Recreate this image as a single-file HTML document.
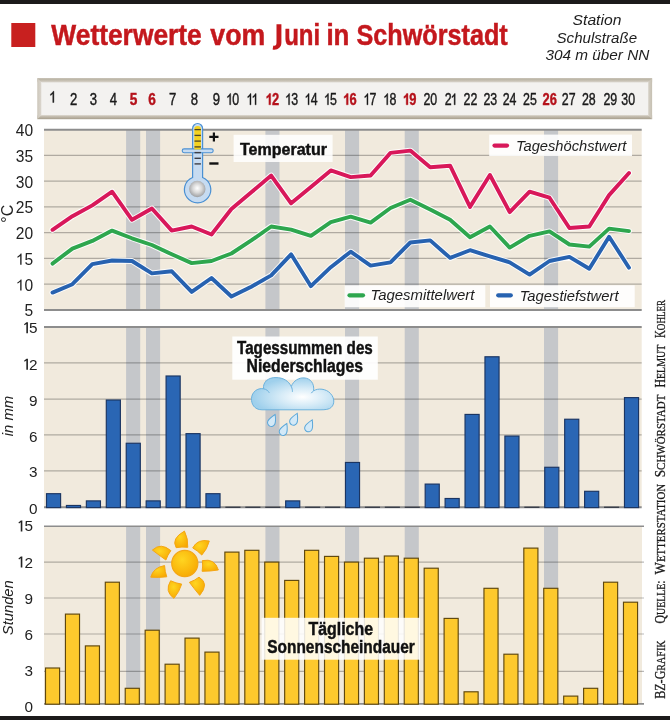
<!DOCTYPE html>
<html lang="de"><head><meta charset="utf-8"><title>Wetterwerte vom Juni in Schwörstadt</title>
<style>html,body{margin:0;padding:0;background:#fff}body{width:670px;height:720px;overflow:hidden;font-family:"Liberation Sans",sans-serif}svg{will-change:transform}</style></head>
<body>
<svg width="670" height="720" viewBox="0 0 670 720" style="display:block;font-family:'Liberation Sans',sans-serif">
<defs>
<linearGradient id="hb" x1="0" y1="0" x2="0" y2="1"><stop offset="0" stop-color="#b5ae9e"/><stop offset="0.075" stop-color="#cbc5b9"/><stop offset="0.115" stop-color="#f3f2f0"/><stop offset="0.885" stop-color="#f3f2f0"/><stop offset="0.92" stop-color="#cac3b6"/><stop offset="1" stop-color="#a69e8c"/></linearGradient>
<linearGradient id="hl" x1="0" y1="0" x2="1" y2="0"><stop offset="0" stop-color="#cdc7bb"/><stop offset="0.7" stop-color="#d8d3ca"/><stop offset="1" stop-color="#f3f2f0"/></linearGradient>
<linearGradient id="hr" x1="1" y1="0" x2="0" y2="0"><stop offset="0" stop-color="#c6c0b2"/><stop offset="0.7" stop-color="#d2cdc2"/><stop offset="1" stop-color="#f3f2f0"/></linearGradient>
<radialGradient id="ball" cx="0.5" cy="0.45" r="0.55"><stop offset="0" stop-color="#ffffff"/><stop offset="0.5" stop-color="#d8d8d8"/><stop offset="1" stop-color="#9d9fa2"/></radialGradient>
<radialGradient id="cloud" cx="0.62" cy="0.6" r="0.6"><stop offset="0" stop-color="#ffffff"/><stop offset="0.45" stop-color="#d6ebf7"/><stop offset="1" stop-color="#9fd0ec"/></radialGradient>
<radialGradient id="sun" cx="0.4" cy="0.35" r="0.75"><stop offset="0" stop-color="#ffd521"/><stop offset="1" stop-color="#f7a600"/></radialGradient>
</defs>
<rect width="670" height="720" fill="#fff"/>
<rect width="670" height="4" fill="#1c1a1b"/>
<rect y="716" width="670" height="4" fill="#1c1a1b"/>
<rect x="11.3" y="23" width="24" height="24" fill="#c8201f"/>
<path d="M276.5,24.3 H281.4 V42.6 C281.4,47.4 278.3,49.7 274.4,49.7 C273.8,49.7 273.2,49.6 272.6,49.4 L273.3,45.6 C273.6,45.7 274,45.8 274.3,45.8 C275.8,45.8 276.5,44.9 276.5,42.3 Z" fill="#c4181d"/>
<text x="51.3" y="44.9" font-size="29.8" font-weight="bold" fill="#c4181d" stroke="#c4181d" stroke-width="0.5" textLength="150.5" lengthAdjust="spacingAndGlyphs">Wetterwerte</text>
<text x="210.3" y="44.9" font-size="29.8" font-weight="bold" fill="#c4181d" stroke="#c4181d" stroke-width="0.5" textLength="54.9" lengthAdjust="spacingAndGlyphs">vom</text>
<text x="284.2" y="44.9" font-size="29.8" font-weight="bold" fill="#c4181d" stroke="#c4181d" stroke-width="0.5" textLength="36.0" lengthAdjust="spacingAndGlyphs">uni</text>
<text x="326.4" y="44.9" font-size="29.8" font-weight="bold" fill="#c4181d" stroke="#c4181d" stroke-width="0.5" textLength="23.0" lengthAdjust="spacingAndGlyphs">in</text>
<text x="356.5" y="44.9" font-size="29.8" font-weight="bold" fill="#c4181d" stroke="#c4181d" stroke-width="0.5" textLength="151.2" lengthAdjust="spacingAndGlyphs">Schwörstadt</text>
<text x="572.6" y="25.3" font-size="14.9" font-style="italic" fill="#1e1e1e" textLength="48.8" lengthAdjust="spacingAndGlyphs">Station</text>
<text x="556.5" y="43.1" font-size="14.9" font-style="italic" fill="#1e1e1e" textLength="80.6" lengthAdjust="spacingAndGlyphs">Schulstraße</text>
<text x="545.4" y="59.7" font-size="14.9" font-style="italic" fill="#1e1e1e" textLength="104.0" lengthAdjust="spacingAndGlyphs">304 m über NN</text>
<rect x="37.3" y="78.2" width="614.8" height="41" fill="url(#hb)"/>
<polygon points="37.3,78.2 41.9,82.8 41.9,114.6 37.3,119.2" fill="url(#hl)"/>
<polygon points="652.1,78.2 647.5,82.8 647.5,114.6 652.1,119.2" fill="url(#hr)"/>
<path transform="translate(49.02,102.5) scale(0.00641,-0.00762)" d="M763 0 H583 V1147 Q518 1085 412.5 1023 Q307 961 223 930 V1104 Q374 1175 487 1276 Q600 1377 647 1472 H763 Z" fill="#1a1a1a" stroke="#1a1a1a" stroke-width="53"/>
<text x="69.95" y="104.8" font-size="15.6" font-weight="normal" fill="#1a1a1a" textLength="7.30" lengthAdjust="spacingAndGlyphs" stroke="#1a1a1a" stroke-width="0.4">2</text>
<text x="89.75" y="104.8" font-size="15.6" font-weight="normal" fill="#1a1a1a" textLength="7.30" lengthAdjust="spacingAndGlyphs" stroke="#1a1a1a" stroke-width="0.4">3</text>
<text x="109.75" y="104.8" font-size="15.6" font-weight="normal" fill="#1a1a1a" textLength="7.30" lengthAdjust="spacingAndGlyphs" stroke="#1a1a1a" stroke-width="0.4">4</text>
<text x="129.70" y="104.8" font-size="15.6" font-weight="bold" fill="#b5121b" textLength="7.59" lengthAdjust="spacingAndGlyphs" stroke="#b5121b" stroke-width="0.4">5</text>
<text x="148.20" y="104.8" font-size="15.6" font-weight="bold" fill="#b5121b" textLength="7.59" lengthAdjust="spacingAndGlyphs" stroke="#b5121b" stroke-width="0.4">6</text>
<text x="169.05" y="104.8" font-size="15.6" font-weight="normal" fill="#1a1a1a" textLength="7.30" lengthAdjust="spacingAndGlyphs" stroke="#1a1a1a" stroke-width="0.4">7</text>
<text x="190.65" y="104.8" font-size="15.6" font-weight="normal" fill="#1a1a1a" textLength="7.30" lengthAdjust="spacingAndGlyphs" stroke="#1a1a1a" stroke-width="0.4">8</text>
<text x="212.65" y="104.8" font-size="15.6" font-weight="normal" fill="#1a1a1a" textLength="7.30" lengthAdjust="spacingAndGlyphs" stroke="#1a1a1a" stroke-width="0.4">9</text>
<path transform="translate(226.08,104.8) scale(0.00606,-0.00762)" d="M763 0 H583 V1147 Q518 1085 412.5 1023 Q307 961 223 930 V1104 Q374 1175 487 1276 Q600 1377 647 1472 H763 Z" fill="#1a1a1a" stroke="#1a1a1a" stroke-width="53"/>
<text x="232.30" y="104.8" font-size="15.6" font-weight="normal" fill="#1a1a1a" textLength="6.90" lengthAdjust="spacingAndGlyphs" stroke="#1a1a1a" stroke-width="0.4">0</text>
<path transform="translate(246.38,104.8) scale(0.00606,-0.00762)" d="M763 0 H583 V1147 Q518 1085 412.5 1023 Q307 961 223 930 V1104 Q374 1175 487 1276 Q600 1377 647 1472 H763 Z" fill="#1a1a1a" stroke="#1a1a1a" stroke-width="53"/>
<path transform="translate(251.49,104.8) scale(0.00606,-0.00762)" d="M763 0 H583 V1147 Q518 1085 412.5 1023 Q307 961 223 930 V1104 Q374 1175 487 1276 Q600 1377 647 1472 H763 Z" fill="#1a1a1a" stroke="#1a1a1a" stroke-width="53"/>
<path transform="translate(265.60,104.8) scale(0.00630,-0.00762)" d="M805 0 H524 V1059 Q370 915 161 846 V1101 Q271 1137 400 1237.5 Q529 1338 577 1472 H805 Z" fill="#b5121b" stroke="#b5121b" stroke-width="53"/>
<text x="272.07" y="104.8" font-size="15.6" font-weight="bold" fill="#b5121b" textLength="7.18" lengthAdjust="spacingAndGlyphs" stroke="#b5121b" stroke-width="0.4">2</text>
<path transform="translate(284.98,104.8) scale(0.00606,-0.00762)" d="M763 0 H583 V1147 Q518 1085 412.5 1023 Q307 961 223 930 V1104 Q374 1175 487 1276 Q600 1377 647 1472 H763 Z" fill="#1a1a1a" stroke="#1a1a1a" stroke-width="53"/>
<text x="291.20" y="104.8" font-size="15.6" font-weight="normal" fill="#1a1a1a" textLength="6.90" lengthAdjust="spacingAndGlyphs" stroke="#1a1a1a" stroke-width="0.4">3</text>
<path transform="translate(304.48,104.8) scale(0.00606,-0.00762)" d="M763 0 H583 V1147 Q518 1085 412.5 1023 Q307 961 223 930 V1104 Q374 1175 487 1276 Q600 1377 647 1472 H763 Z" fill="#1a1a1a" stroke="#1a1a1a" stroke-width="53"/>
<text x="310.70" y="104.8" font-size="15.6" font-weight="normal" fill="#1a1a1a" textLength="6.90" lengthAdjust="spacingAndGlyphs" stroke="#1a1a1a" stroke-width="0.4">4</text>
<path transform="translate(323.88,104.8) scale(0.00606,-0.00762)" d="M763 0 H583 V1147 Q518 1085 412.5 1023 Q307 961 223 930 V1104 Q374 1175 487 1276 Q600 1377 647 1472 H763 Z" fill="#1a1a1a" stroke="#1a1a1a" stroke-width="53"/>
<text x="330.10" y="104.8" font-size="15.6" font-weight="normal" fill="#1a1a1a" textLength="6.90" lengthAdjust="spacingAndGlyphs" stroke="#1a1a1a" stroke-width="0.4">5</text>
<path transform="translate(343.10,104.8) scale(0.00630,-0.00762)" d="M805 0 H524 V1059 Q370 915 161 846 V1101 Q271 1137 400 1237.5 Q529 1338 577 1472 H805 Z" fill="#b5121b" stroke="#b5121b" stroke-width="53"/>
<text x="349.57" y="104.8" font-size="15.6" font-weight="bold" fill="#b5121b" textLength="7.18" lengthAdjust="spacingAndGlyphs" stroke="#b5121b" stroke-width="0.4">6</text>
<path transform="translate(363.38,104.8) scale(0.00606,-0.00762)" d="M763 0 H583 V1147 Q518 1085 412.5 1023 Q307 961 223 930 V1104 Q374 1175 487 1276 Q600 1377 647 1472 H763 Z" fill="#1a1a1a" stroke="#1a1a1a" stroke-width="53"/>
<text x="369.60" y="104.8" font-size="15.6" font-weight="normal" fill="#1a1a1a" textLength="6.90" lengthAdjust="spacingAndGlyphs" stroke="#1a1a1a" stroke-width="0.4">7</text>
<path transform="translate(383.18,104.8) scale(0.00606,-0.00762)" d="M763 0 H583 V1147 Q518 1085 412.5 1023 Q307 961 223 930 V1104 Q374 1175 487 1276 Q600 1377 647 1472 H763 Z" fill="#1a1a1a" stroke="#1a1a1a" stroke-width="53"/>
<text x="389.40" y="104.8" font-size="15.6" font-weight="normal" fill="#1a1a1a" textLength="6.90" lengthAdjust="spacingAndGlyphs" stroke="#1a1a1a" stroke-width="0.4">8</text>
<path transform="translate(402.90,104.8) scale(0.00630,-0.00762)" d="M805 0 H524 V1059 Q370 915 161 846 V1101 Q271 1137 400 1237.5 Q529 1338 577 1472 H805 Z" fill="#b5121b" stroke="#b5121b" stroke-width="53"/>
<text x="409.37" y="104.8" font-size="15.6" font-weight="bold" fill="#b5121b" textLength="7.18" lengthAdjust="spacingAndGlyphs" stroke="#b5121b" stroke-width="0.4">9</text>
<text x="423.40" y="104.8" font-size="15.6" font-weight="normal" fill="#1a1a1a" textLength="6.90" lengthAdjust="spacingAndGlyphs" stroke="#1a1a1a" stroke-width="0.4">2</text>
<text x="430.30" y="104.8" font-size="15.6" font-weight="normal" fill="#1a1a1a" textLength="6.90" lengthAdjust="spacingAndGlyphs" stroke="#1a1a1a" stroke-width="0.4">0</text>
<text x="444.80" y="104.8" font-size="15.6" font-weight="normal" fill="#1a1a1a" textLength="6.90" lengthAdjust="spacingAndGlyphs" stroke="#1a1a1a" stroke-width="0.4">2</text>
<path transform="translate(450.58,104.8) scale(0.00606,-0.00762)" d="M763 0 H583 V1147 Q518 1085 412.5 1023 Q307 961 223 930 V1104 Q374 1175 487 1276 Q600 1377 647 1472 H763 Z" fill="#1a1a1a" stroke="#1a1a1a" stroke-width="53"/>
<text x="463.60" y="104.8" font-size="15.6" font-weight="normal" fill="#1a1a1a" textLength="6.90" lengthAdjust="spacingAndGlyphs" stroke="#1a1a1a" stroke-width="0.4">2</text>
<text x="470.50" y="104.8" font-size="15.6" font-weight="normal" fill="#1a1a1a" textLength="6.90" lengthAdjust="spacingAndGlyphs" stroke="#1a1a1a" stroke-width="0.4">2</text>
<text x="483.40" y="104.8" font-size="15.6" font-weight="normal" fill="#1a1a1a" textLength="6.90" lengthAdjust="spacingAndGlyphs" stroke="#1a1a1a" stroke-width="0.4">2</text>
<text x="490.30" y="104.8" font-size="15.6" font-weight="normal" fill="#1a1a1a" textLength="6.90" lengthAdjust="spacingAndGlyphs" stroke="#1a1a1a" stroke-width="0.4">3</text>
<text x="502.70" y="104.8" font-size="15.6" font-weight="normal" fill="#1a1a1a" textLength="6.90" lengthAdjust="spacingAndGlyphs" stroke="#1a1a1a" stroke-width="0.4">2</text>
<text x="509.60" y="104.8" font-size="15.6" font-weight="normal" fill="#1a1a1a" textLength="6.90" lengthAdjust="spacingAndGlyphs" stroke="#1a1a1a" stroke-width="0.4">4</text>
<text x="523.10" y="104.8" font-size="15.6" font-weight="normal" fill="#1a1a1a" textLength="6.90" lengthAdjust="spacingAndGlyphs" stroke="#1a1a1a" stroke-width="0.4">2</text>
<text x="530.00" y="104.8" font-size="15.6" font-weight="normal" fill="#1a1a1a" textLength="6.90" lengthAdjust="spacingAndGlyphs" stroke="#1a1a1a" stroke-width="0.4">5</text>
<text x="542.52" y="104.8" font-size="15.6" font-weight="bold" fill="#b5121b" textLength="7.18" lengthAdjust="spacingAndGlyphs" stroke="#b5121b" stroke-width="0.4">2</text>
<text x="549.70" y="104.8" font-size="15.6" font-weight="bold" fill="#b5121b" textLength="7.18" lengthAdjust="spacingAndGlyphs" stroke="#b5121b" stroke-width="0.4">6</text>
<text x="561.80" y="104.8" font-size="15.6" font-weight="normal" fill="#1a1a1a" textLength="6.90" lengthAdjust="spacingAndGlyphs" stroke="#1a1a1a" stroke-width="0.4">2</text>
<text x="568.70" y="104.8" font-size="15.6" font-weight="normal" fill="#1a1a1a" textLength="6.90" lengthAdjust="spacingAndGlyphs" stroke="#1a1a1a" stroke-width="0.4">7</text>
<text x="581.90" y="104.8" font-size="15.6" font-weight="normal" fill="#1a1a1a" textLength="6.90" lengthAdjust="spacingAndGlyphs" stroke="#1a1a1a" stroke-width="0.4">2</text>
<text x="588.80" y="104.8" font-size="15.6" font-weight="normal" fill="#1a1a1a" textLength="6.90" lengthAdjust="spacingAndGlyphs" stroke="#1a1a1a" stroke-width="0.4">8</text>
<text x="603.40" y="104.8" font-size="15.6" font-weight="normal" fill="#1a1a1a" textLength="6.90" lengthAdjust="spacingAndGlyphs" stroke="#1a1a1a" stroke-width="0.4">2</text>
<text x="610.30" y="104.8" font-size="15.6" font-weight="normal" fill="#1a1a1a" textLength="6.90" lengthAdjust="spacingAndGlyphs" stroke="#1a1a1a" stroke-width="0.4">9</text>
<text x="621.30" y="104.8" font-size="15.6" font-weight="normal" fill="#1a1a1a" textLength="6.90" lengthAdjust="spacingAndGlyphs" stroke="#1a1a1a" stroke-width="0.4">3</text>
<text x="628.20" y="104.8" font-size="15.6" font-weight="normal" fill="#1a1a1a" textLength="6.90" lengthAdjust="spacingAndGlyphs" stroke="#1a1a1a" stroke-width="0.4">0</text>
<rect x="44.0" y="129.7" width="597.7" height="180.2" fill="#f1eadd"/>
<rect x="126.10" y="129.7" width="14.1" height="180.2" fill="#c5c7ca"/>
<rect x="146.00" y="129.7" width="14.1" height="180.2" fill="#c5c7ca"/>
<rect x="265.40" y="129.7" width="14.1" height="180.2" fill="#c5c7ca"/>
<rect x="345.00" y="129.7" width="14.1" height="180.2" fill="#c5c7ca"/>
<rect x="404.70" y="129.7" width="14.1" height="180.2" fill="#c5c7ca"/>
<rect x="544.00" y="129.7" width="14.1" height="180.2" fill="#c5c7ca"/>
<line x1="44.0" x2="641.7" y1="155.4" y2="155.4" stroke="#000" stroke-opacity="0.27" stroke-width="1.2"/>
<line x1="44.0" x2="641.7" y1="181.2" y2="181.2" stroke="#000" stroke-opacity="0.27" stroke-width="1.2"/>
<line x1="44.0" x2="641.7" y1="206.9" y2="206.9" stroke="#000" stroke-opacity="0.27" stroke-width="1.2"/>
<line x1="44.0" x2="641.7" y1="232.7" y2="232.7" stroke="#000" stroke-opacity="0.27" stroke-width="1.2"/>
<line x1="44.0" x2="641.7" y1="258.4" y2="258.4" stroke="#000" stroke-opacity="0.27" stroke-width="1.2"/>
<line x1="44.0" x2="641.7" y1="284.2" y2="284.2" stroke="#000" stroke-opacity="0.27" stroke-width="1.2"/>
<line x1="44.0" x2="641.7" y1="129.7" y2="129.7" stroke="#8d8d8d" stroke-width="2"/>
<line x1="44.0" x2="641.7" y1="309.9" y2="309.9" stroke="#8d8d8d" stroke-width="2"/>
<text x="15.75" y="136.1" font-size="15.6" font-weight="normal" fill="#222" textLength="8.68" lengthAdjust="spacingAndGlyphs">4</text>
<text x="24.42" y="136.1" font-size="15.6" font-weight="normal" fill="#222" textLength="8.68" lengthAdjust="spacingAndGlyphs">0</text>
<text x="15.75" y="161.8" font-size="15.6" font-weight="normal" fill="#222" textLength="8.68" lengthAdjust="spacingAndGlyphs">3</text>
<text x="24.42" y="161.8" font-size="15.6" font-weight="normal" fill="#222" textLength="8.68" lengthAdjust="spacingAndGlyphs">5</text>
<text x="15.75" y="187.6" font-size="15.6" font-weight="normal" fill="#222" textLength="8.68" lengthAdjust="spacingAndGlyphs">3</text>
<text x="24.42" y="187.6" font-size="15.6" font-weight="normal" fill="#222" textLength="8.68" lengthAdjust="spacingAndGlyphs">0</text>
<text x="15.75" y="213.3" font-size="15.6" font-weight="normal" fill="#222" textLength="8.68" lengthAdjust="spacingAndGlyphs">2</text>
<text x="24.42" y="213.3" font-size="15.6" font-weight="normal" fill="#222" textLength="8.68" lengthAdjust="spacingAndGlyphs">5</text>
<text x="15.75" y="239.1" font-size="15.6" font-weight="normal" fill="#222" textLength="8.68" lengthAdjust="spacingAndGlyphs">2</text>
<text x="24.42" y="239.1" font-size="15.6" font-weight="normal" fill="#222" textLength="8.68" lengthAdjust="spacingAndGlyphs">0</text>
<path transform="translate(15.75,264.8) scale(0.00762,-0.00762)" d="M763 0 H583 V1147 Q518 1085 412.5 1023 Q307 961 223 930 V1104 Q374 1175 487 1276 Q600 1377 647 1472 H763 Z" fill="#222"/>
<text x="24.42" y="264.8" font-size="15.6" font-weight="normal" fill="#222" textLength="8.68" lengthAdjust="spacingAndGlyphs">5</text>
<path transform="translate(15.75,290.6) scale(0.00762,-0.00762)" d="M763 0 H583 V1147 Q518 1085 412.5 1023 Q307 961 223 930 V1104 Q374 1175 487 1276 Q600 1377 647 1472 H763 Z" fill="#222"/>
<text x="24.42" y="290.6" font-size="15.6" font-weight="normal" fill="#222" textLength="8.68" lengthAdjust="spacingAndGlyphs">0</text>
<text x="24.42" y="316.3" font-size="15.6" font-weight="normal" fill="#222" textLength="8.68" lengthAdjust="spacingAndGlyphs">5</text>
<text transform="translate(13,222.7) rotate(-90)" font-size="16" fill="#222">°C</text>
<rect x="233.6" y="134.8" width="99" height="27.2" fill="#fff" fill-opacity="0.85"/>
<text x="240" y="154.6" font-size="16.3" font-weight="bold" fill="#111" stroke="#111" stroke-width="0.45" textLength="87" lengthAdjust="spacingAndGlyphs">Temperatur</text>
<rect x="489.2" y="134.6" width="142.8" height="21.4" fill="#fff" fill-opacity="0.9"/>
<line x1="494.5" x2="507" y1="145.6" y2="145.6" stroke="#d8185a" stroke-width="4.2" stroke-linecap="round"/>
<text x="515.9" y="150.6" font-size="14.6" font-style="italic" fill="#1e1e1e" textLength="110.5" lengthAdjust="spacingAndGlyphs">Tageshöchstwert</text>
<rect x="344.7" y="285.3" width="140.6" height="21.9" fill="#fff" fill-opacity="0.9"/>
<line x1="349.5" x2="363" y1="295.3" y2="295.3" stroke="#2ea64e" stroke-width="4.2" stroke-linecap="round"/>
<text x="370.4" y="300.4" font-size="14.6" font-style="italic" fill="#1e1e1e" textLength="104.1" lengthAdjust="spacingAndGlyphs">Tagesmittelwert</text>
<rect x="490" y="285.3" width="144.7" height="21.9" fill="#fff" fill-opacity="0.9"/>
<line x1="498.2" x2="510.8" y1="295.3" y2="295.3" stroke="#2762b0" stroke-width="4.2" stroke-linecap="round"/>
<text x="519.7" y="301" font-size="14.6" font-style="italic" fill="#1e1e1e" textLength="98.8" lengthAdjust="spacingAndGlyphs">Tagestiefstwert</text>
<polyline points="52.5,292.6 72.4,284.2 92.3,264.1 112.1,260.5 132.0,261.0 151.9,273.4 171.8,271.3 191.7,291.9 211.5,278.0 231.4,296.5 251.3,286.7 271.2,275.4 291.1,254.3 310.9,286.2 330.8,267.2 350.7,251.7 370.6,265.6 390.5,262.3 410.3,242.5 430.2,240.4 450.1,257.9 470.0,250.2 489.9,256.4 509.7,262.3 529.6,274.6 549.5,261.0 569.4,256.9 589.3,268.7 609.1,236.8 629.0,267.7" fill="none" stroke="#fff" stroke-opacity="0.9" stroke-width="5.9" stroke-linejoin="round" stroke-linecap="round"/>
<polyline points="52.5,292.6 72.4,284.2 92.3,264.1 112.1,260.5 132.0,261.0 151.9,273.4 171.8,271.3 191.7,291.9 211.5,278.0 231.4,296.5 251.3,286.7 271.2,275.4 291.1,254.3 310.9,286.2 330.8,267.2 350.7,251.7 370.6,265.6 390.5,262.3 410.3,242.5 430.2,240.4 450.1,257.9 470.0,250.2 489.9,256.4 509.7,262.3 529.6,274.6 549.5,261.0 569.4,256.9 589.3,268.7 609.1,236.8 629.0,267.7" fill="none" stroke="#2762b0" stroke-width="3.9" stroke-linejoin="round" stroke-linecap="round"/>
<polyline points="52.5,263.6 72.4,248.6 92.3,240.9 112.1,230.6 132.0,238.3 151.9,245.0 171.8,254.3 191.7,263.1 211.5,261.0 231.4,253.5 251.3,240.4 271.2,226.5 291.1,229.6 310.9,235.8 330.8,222.1 350.7,216.7 370.6,222.6 390.5,208.0 410.3,199.7 430.2,209.5 450.1,219.8 470.0,237.3 489.9,226.5 509.7,247.6 529.6,235.8 549.5,231.4 569.4,244.5 589.3,246.6 609.1,228.6 629.0,231.1" fill="none" stroke="#fff" stroke-opacity="0.9" stroke-width="5.9" stroke-linejoin="round" stroke-linecap="round"/>
<polyline points="52.5,263.6 72.4,248.6 92.3,240.9 112.1,230.6 132.0,238.3 151.9,245.0 171.8,254.3 191.7,263.1 211.5,261.0 231.4,253.5 251.3,240.4 271.2,226.5 291.1,229.6 310.9,235.8 330.8,222.1 350.7,216.7 370.6,222.6 390.5,208.0 410.3,199.7 430.2,209.5 450.1,219.8 470.0,237.3 489.9,226.5 509.7,247.6 529.6,235.8 549.5,231.4 569.4,244.5 589.3,246.6 609.1,228.6 629.0,231.1" fill="none" stroke="#2ea64e" stroke-width="3.9" stroke-linejoin="round" stroke-linecap="round"/>
<polyline points="52.5,229.8 72.4,216.2 92.3,205.4 112.1,191.7 132.0,219.8 151.9,208.5 171.8,230.6 191.7,226.5 211.5,234.5 231.4,209.0 251.3,192.3 271.2,175.6 291.1,203.3 310.9,186.9 330.8,170.4 350.7,177.1 370.6,175.5 390.5,152.9 410.3,150.6 430.2,167.3 450.1,165.7 470.0,206.9 489.9,175.0 509.7,212.1 529.6,191.7 549.5,197.7 569.4,228.0 589.3,226.5 609.1,195.1 629.0,173.0" fill="none" stroke="#fff" stroke-opacity="0.9" stroke-width="5.9" stroke-linejoin="round" stroke-linecap="round"/>
<polyline points="52.5,229.8 72.4,216.2 92.3,205.4 112.1,191.7 132.0,219.8 151.9,208.5 171.8,230.6 191.7,226.5 211.5,234.5 231.4,209.0 251.3,192.3 271.2,175.6 291.1,203.3 310.9,186.9 330.8,170.4 350.7,177.1 370.6,175.5 390.5,152.9 410.3,150.6 430.2,167.3 450.1,165.7 470.0,206.9 489.9,175.0 509.7,212.1 529.6,191.7 549.5,197.7 569.4,228.0 589.3,226.5 609.1,195.1 629.0,173.0" fill="none" stroke="#d8185a" stroke-width="3.9" stroke-linejoin="round" stroke-linecap="round"/>
<g id="thermo">
<path d="M192.6,128.5 a5,5 0 0 1 10,0 V177.5 a13.2,13.2 0 1 1 -10,0 Z" fill="#c6dbf1" stroke="#4a90d3" stroke-width="1.2"/>
<rect x="182.2" y="148.9" width="31" height="3.8" rx="1.9" fill="#c6dbf1" stroke="#4a90d3" stroke-width="1.1"/>
<rect x="193.3" y="150" width="8.6" height="1.8" fill="#c6dbf1"/>
<path d="M194.3,129.4 a3.3,3.3 0 0 1 6.6,0 V149.6 H194.3 Z" fill="#f4d21f"/>
<g stroke="#4f4520" stroke-width="1.3"><line x1="194.5" x2="200.9" y1="129.6" y2="129.6"/><line x1="194.5" x2="200.9" y1="135.4" y2="135.4"/><line x1="194.5" x2="200.9" y1="141.1" y2="141.1"/><line x1="194.5" x2="200.9" y1="146.9" y2="146.9"/></g>
<g stroke="#3c3e46" stroke-width="1.4"><line x1="194.5" x2="200.9" y1="152.6" y2="152.6"/><line x1="194.5" x2="200.9" y1="158.3" y2="158.3"/><line x1="194.5" x2="200.9" y1="163.9" y2="163.9"/></g>
<circle cx="197.3" cy="189" r="8.2" fill="url(#ball)"/>
<path d="M209.3,136.9 h9.2 M213.9,132.4 v9" stroke="#111" stroke-width="2.2" fill="none"/>
<path d="M209.3,163.5 h9.2" stroke="#111" stroke-width="2.4" fill="none"/>
</g>
<rect x="44.0" y="327" width="597.7" height="180.2" fill="#f1eadd"/>
<rect x="126.10" y="327" width="14.1" height="180.2" fill="#c5c7ca"/>
<rect x="146.00" y="327" width="14.1" height="180.2" fill="#c5c7ca"/>
<rect x="265.40" y="327" width="14.1" height="180.2" fill="#c5c7ca"/>
<rect x="345.00" y="327" width="14.1" height="180.2" fill="#c5c7ca"/>
<rect x="404.70" y="327" width="14.1" height="180.2" fill="#c5c7ca"/>
<rect x="544.00" y="327" width="14.1" height="180.2" fill="#c5c7ca"/>
<line x1="44.0" x2="641.7" y1="362.9" y2="362.9" stroke="#000" stroke-opacity="0.27" stroke-width="1.2"/>
<line x1="44.0" x2="641.7" y1="399.2" y2="399.2" stroke="#000" stroke-opacity="0.27" stroke-width="1.2"/>
<line x1="44.0" x2="641.7" y1="434.9" y2="434.9" stroke="#000" stroke-opacity="0.27" stroke-width="1.2"/>
<line x1="44.0" x2="641.7" y1="470.8" y2="470.8" stroke="#000" stroke-opacity="0.27" stroke-width="1.2"/>
<line x1="44.0" x2="641.7" y1="327.0" y2="327.0" stroke="#8d8d8d" stroke-width="2"/>
<line x1="44.0" x2="641.7" y1="507.3" y2="507.3" stroke="#8d8d8d" stroke-width="2"/>
<text x="28.99" y="333.3" font-size="15.3" fill="#222">5</text>
<path d="M27.94,333.3 V322.30 H26.49 L24.04,324.30 L24.64,325.30 L26.34,324.05 V333.3 Z" fill="#222"/>
<text x="28.99" y="369.7" font-size="15.3" fill="#222">2</text>
<path d="M27.94,369.7 V358.70 H26.49 L24.04,360.70 L24.64,361.70 L26.34,360.45 V369.7 Z" fill="#222"/>
<text x="28.99" y="406.1" font-size="15.3" fill="#222">9</text>
<text x="28.99" y="441.5" font-size="15.3" fill="#222">6</text>
<text x="28.99" y="477.2" font-size="15.3" fill="#222">3</text>
<text x="28.99" y="513.7" font-size="15.3" fill="#222">0</text>
<text transform="translate(13,436.3) rotate(-90)" font-size="15" font-style="italic" fill="#222" textLength="40.5" lengthAdjust="spacingAndGlyphs">in mm</text>
<rect x="46.50" y="493.69" width="14.1" height="13.91" fill="#2a66b4" stroke="#1b3562" stroke-width="1.15"/>
<rect x="66.43" y="505.46" width="14.1" height="2.14" fill="#2a66b4" stroke="#1b3562" stroke-width="1.15"/>
<rect x="86.36" y="500.89" width="14.1" height="6.71" fill="#2a66b4" stroke="#1b3562" stroke-width="1.15"/>
<rect x="106.29" y="400.01" width="14.1" height="107.59" fill="#2a66b4" stroke="#1b3562" stroke-width="1.15"/>
<rect x="126.22" y="443.25" width="14.1" height="64.35" fill="#2a66b4" stroke="#1b3562" stroke-width="1.15"/>
<rect x="146.15" y="500.89" width="14.1" height="6.71" fill="#2a66b4" stroke="#1b3562" stroke-width="1.15"/>
<rect x="166.08" y="375.99" width="14.1" height="131.61" fill="#2a66b4" stroke="#1b3562" stroke-width="1.15"/>
<rect x="186.01" y="433.64" width="14.1" height="73.96" fill="#2a66b4" stroke="#1b3562" stroke-width="1.15"/>
<rect x="205.94" y="493.69" width="14.1" height="13.91" fill="#2a66b4" stroke="#1b3562" stroke-width="1.15"/>
<rect x="225.37" y="506.6" width="15.1" height="1.4" fill="#3a3f4a"/>
<rect x="245.30" y="506.6" width="15.1" height="1.4" fill="#3a3f4a"/>
<rect x="265.23" y="506.6" width="15.1" height="1.4" fill="#3a3f4a"/>
<rect x="285.66" y="500.89" width="14.1" height="6.71" fill="#2a66b4" stroke="#1b3562" stroke-width="1.15"/>
<rect x="305.09" y="506.6" width="15.1" height="1.4" fill="#3a3f4a"/>
<rect x="325.02" y="506.6" width="15.1" height="1.4" fill="#3a3f4a"/>
<rect x="345.45" y="462.46" width="14.1" height="45.14" fill="#2a66b4" stroke="#1b3562" stroke-width="1.15"/>
<rect x="364.88" y="506.6" width="15.1" height="1.4" fill="#3a3f4a"/>
<rect x="384.81" y="506.6" width="15.1" height="1.4" fill="#3a3f4a"/>
<rect x="404.74" y="506.6" width="15.1" height="1.4" fill="#3a3f4a"/>
<rect x="425.17" y="484.08" width="14.1" height="23.52" fill="#2a66b4" stroke="#1b3562" stroke-width="1.15"/>
<rect x="445.10" y="498.49" width="14.1" height="9.11" fill="#2a66b4" stroke="#1b3562" stroke-width="1.15"/>
<rect x="465.03" y="414.42" width="14.1" height="93.18" fill="#2a66b4" stroke="#1b3562" stroke-width="1.15"/>
<rect x="484.96" y="356.77" width="14.1" height="150.83" fill="#2a66b4" stroke="#1b3562" stroke-width="1.15"/>
<rect x="504.89" y="436.04" width="14.1" height="71.56" fill="#2a66b4" stroke="#1b3562" stroke-width="1.15"/>
<rect x="524.32" y="506.6" width="15.1" height="1.4" fill="#3a3f4a"/>
<rect x="544.75" y="467.27" width="14.1" height="40.33" fill="#2a66b4" stroke="#1b3562" stroke-width="1.15"/>
<rect x="564.68" y="419.23" width="14.1" height="88.37" fill="#2a66b4" stroke="#1b3562" stroke-width="1.15"/>
<rect x="584.61" y="491.29" width="14.1" height="16.31" fill="#2a66b4" stroke="#1b3562" stroke-width="1.15"/>
<rect x="604.04" y="506.6" width="15.1" height="1.4" fill="#3a3f4a"/>
<rect x="624.47" y="397.61" width="14.1" height="109.99" fill="#2a66b4" stroke="#1b3562" stroke-width="1.15"/>
<rect x="232.3" y="336.5" width="145.5" height="43.2" fill="#fff" fill-opacity="0.93"/>
<text x="237" y="353.7" font-size="18" font-weight="bold" fill="#111" stroke="#111" stroke-width="0.45" textLength="135.8" lengthAdjust="spacingAndGlyphs">Tagessummen des</text>
<text x="246.6" y="372.3" font-size="18" font-weight="bold" fill="#111" stroke="#111" stroke-width="0.45" textLength="116.4" lengthAdjust="spacingAndGlyphs">Niederschlages</text>
<g id="cloudg">
<path d="M262,409.8 C254,409.8 251.2,403.5 251.5,398.5 C251.8,392 257.5,387.6 263.6,388.8 C262.5,382.2 268.5,377.2 276,377.6 C283.5,377.6 288.5,381 291.3,386.5 C293.5,380.5 299,377.6 304,377.9 C310.5,378.2 314.5,383.5 313.6,390.8 C318,388 326,388.5 330.5,393.5 C335.5,399 334.5,406 329.5,408.6 C326,410 322,409.8 318,409.8 Z" fill="url(#cloud)" stroke="#6cb2dd" stroke-width="1"/>
<path d="M263.6,388.8 C266.5,389.3 268.3,391 269.3,392.8 M291.3,386.5 C292.2,388.5 292.5,390.3 292.4,391.8 M313.6,390.8 C312.6,391.6 311.8,392.3 311.3,393.2" fill="none" stroke="#6cb2dd" stroke-width="1"/>
</g>
<path transform="translate(272.3,420.6) rotate(25) scale(1.12)" d="M0,-6 C2.4,-2.2 3.4,0.2 3.4,2 A3.4,3.4 0 1 1 -3.4,2 C-3.4,0.2 -2.4,-2.2 0,-6 Z" fill="#d3e9f7" stroke="#5aa7d9" stroke-width="0.9"/>
<path transform="translate(294.4,419.4) rotate(25) scale(1.12)" d="M0,-6 C2.4,-2.2 3.4,0.2 3.4,2 A3.4,3.4 0 1 1 -3.4,2 C-3.4,0.2 -2.4,-2.2 0,-6 Z" fill="#d3e9f7" stroke="#5aa7d9" stroke-width="0.9"/>
<path transform="translate(284,429.6) rotate(25) scale(1.12)" d="M0,-6 C2.4,-2.2 3.4,0.2 3.4,2 A3.4,3.4 0 1 1 -3.4,2 C-3.4,0.2 -2.4,-2.2 0,-6 Z" fill="#d3e9f7" stroke="#5aa7d9" stroke-width="0.9"/>
<path transform="translate(309.4,426) rotate(25) scale(1.12)" d="M0,-6 C2.4,-2.2 3.4,0.2 3.4,2 A3.4,3.4 0 1 1 -3.4,2 C-3.4,0.2 -2.4,-2.2 0,-6 Z" fill="#d3e9f7" stroke="#5aa7d9" stroke-width="0.9"/>
<rect x="44.0" y="526.3" width="598.0" height="177.60000000000002" fill="#f1eadd"/>
<rect x="126.10" y="526.3" width="14.1" height="177.60000000000002" fill="#c5c7ca"/>
<rect x="146.00" y="526.3" width="14.1" height="177.60000000000002" fill="#c5c7ca"/>
<rect x="265.40" y="526.3" width="14.1" height="177.60000000000002" fill="#c5c7ca"/>
<rect x="345.00" y="526.3" width="14.1" height="177.60000000000002" fill="#c5c7ca"/>
<rect x="404.70" y="526.3" width="14.1" height="177.60000000000002" fill="#c5c7ca"/>
<rect x="544.00" y="526.3" width="14.1" height="177.60000000000002" fill="#c5c7ca"/>
<line x1="44.0" x2="644" y1="562.2" y2="562.2" stroke="#000" stroke-opacity="0.27" stroke-width="1.2"/>
<line x1="44.0" x2="644" y1="598.0" y2="598.0" stroke="#000" stroke-opacity="0.27" stroke-width="1.2"/>
<line x1="44.0" x2="644" y1="634.0" y2="634.0" stroke="#000" stroke-opacity="0.27" stroke-width="1.2"/>
<line x1="44.0" x2="644" y1="671.3" y2="671.3" stroke="#000" stroke-opacity="0.27" stroke-width="1.2"/>
<line x1="44.0" x2="644" y1="526.3" y2="526.3" stroke="#8d8d8d" stroke-width="1.6"/>
<line x1="44.0" x2="644" y1="703.9" y2="703.9" stroke="#8d8d8d" stroke-width="1.6"/>
<text x="24.39" y="531.4" font-size="15.3" fill="#222">5</text>
<path d="M22.34,531.4 V520.40 H20.89 L18.44,522.40 L19.04,523.40 L20.74,522.15 V531.4 Z" fill="#222"/>
<text x="24.39" y="567.5" font-size="15.3" fill="#222">2</text>
<path d="M22.34,567.5 V556.50 H20.89 L18.44,558.50 L19.04,559.50 L20.74,558.25 V567.5 Z" fill="#222"/>
<text x="24.39" y="603.9" font-size="15.3" fill="#222">9</text>
<text x="24.39" y="639.7" font-size="15.3" fill="#222">6</text>
<text x="24.39" y="675.6" font-size="15.3" fill="#222">3</text>
<text x="24.39" y="711.7" font-size="15.3" fill="#222">0</text>
<text transform="translate(13,635.2) rotate(-90)" font-size="15" font-style="italic" fill="#222" textLength="55" lengthAdjust="spacingAndGlyphs">Stunden</text>
<rect x="45.50" y="668.00" width="14.1" height="36.20" fill="#fdc92d" stroke="#5e470e" stroke-width="1.15"/>
<rect x="65.43" y="614.10" width="14.1" height="90.10" fill="#fdc92d" stroke="#5e470e" stroke-width="1.15"/>
<rect x="85.36" y="645.90" width="14.1" height="58.30" fill="#fdc92d" stroke="#5e470e" stroke-width="1.15"/>
<rect x="105.29" y="582.20" width="14.1" height="122.00" fill="#fdc92d" stroke="#5e470e" stroke-width="1.15"/>
<rect x="125.22" y="688.30" width="14.1" height="15.90" fill="#fdc92d" stroke="#5e470e" stroke-width="1.15"/>
<rect x="145.15" y="630.20" width="14.1" height="74.00" fill="#fdc92d" stroke="#5e470e" stroke-width="1.15"/>
<rect x="165.08" y="664.20" width="14.1" height="40.00" fill="#fdc92d" stroke="#5e470e" stroke-width="1.15"/>
<rect x="185.01" y="638.10" width="14.1" height="66.10" fill="#fdc92d" stroke="#5e470e" stroke-width="1.15"/>
<rect x="204.94" y="652.10" width="14.1" height="52.10" fill="#fdc92d" stroke="#5e470e" stroke-width="1.15"/>
<rect x="224.87" y="552.10" width="14.1" height="152.10" fill="#fdc92d" stroke="#5e470e" stroke-width="1.15"/>
<rect x="244.80" y="550.30" width="14.1" height="153.90" fill="#fdc92d" stroke="#5e470e" stroke-width="1.15"/>
<rect x="264.73" y="562.10" width="14.1" height="142.10" fill="#fdc92d" stroke="#5e470e" stroke-width="1.15"/>
<rect x="284.66" y="580.40" width="14.1" height="123.80" fill="#fdc92d" stroke="#5e470e" stroke-width="1.15"/>
<rect x="304.59" y="550.30" width="14.1" height="153.90" fill="#fdc92d" stroke="#5e470e" stroke-width="1.15"/>
<rect x="324.52" y="556.40" width="14.1" height="147.80" fill="#fdc92d" stroke="#5e470e" stroke-width="1.15"/>
<rect x="344.45" y="562.10" width="14.1" height="142.10" fill="#fdc92d" stroke="#5e470e" stroke-width="1.15"/>
<rect x="364.38" y="558.20" width="14.1" height="146.00" fill="#fdc92d" stroke="#5e470e" stroke-width="1.15"/>
<rect x="384.31" y="556.00" width="14.1" height="148.20" fill="#fdc92d" stroke="#5e470e" stroke-width="1.15"/>
<rect x="404.24" y="558.20" width="14.1" height="146.00" fill="#fdc92d" stroke="#5e470e" stroke-width="1.15"/>
<rect x="424.17" y="568.20" width="14.1" height="136.00" fill="#fdc92d" stroke="#5e470e" stroke-width="1.15"/>
<rect x="444.10" y="618.40" width="14.1" height="85.80" fill="#fdc92d" stroke="#5e470e" stroke-width="1.15"/>
<rect x="464.03" y="691.80" width="14.1" height="12.40" fill="#fdc92d" stroke="#5e470e" stroke-width="1.15"/>
<rect x="483.96" y="588.30" width="14.1" height="115.90" fill="#fdc92d" stroke="#5e470e" stroke-width="1.15"/>
<rect x="503.89" y="654.20" width="14.1" height="50.00" fill="#fdc92d" stroke="#5e470e" stroke-width="1.15"/>
<rect x="523.82" y="548.10" width="14.1" height="156.10" fill="#fdc92d" stroke="#5e470e" stroke-width="1.15"/>
<rect x="543.75" y="588.30" width="14.1" height="115.90" fill="#fdc92d" stroke="#5e470e" stroke-width="1.15"/>
<rect x="563.68" y="696.10" width="14.1" height="8.10" fill="#fdc92d" stroke="#5e470e" stroke-width="1.15"/>
<rect x="583.61" y="688.30" width="14.1" height="15.90" fill="#fdc92d" stroke="#5e470e" stroke-width="1.15"/>
<rect x="603.54" y="582.20" width="14.1" height="122.00" fill="#fdc92d" stroke="#5e470e" stroke-width="1.15"/>
<rect x="623.47" y="602.20" width="14.1" height="102.00" fill="#fdc92d" stroke="#5e470e" stroke-width="1.15"/>
<rect x="261.6" y="617.8" width="158.4" height="41.9" fill="#fff" fill-opacity="0.86"/>
<text x="308.5" y="635" font-size="18.3" font-weight="bold" fill="#111" stroke="#111" stroke-width="0.45" textLength="64.5" lengthAdjust="spacingAndGlyphs">Tägliche</text>
<text x="267.3" y="653.2" font-size="18.3" font-weight="bold" fill="#111" stroke="#111" stroke-width="0.45" textLength="147.5" lengthAdjust="spacingAndGlyphs">Sonnenscheindauer</text>
<circle cx="184.8" cy="563.5" r="13.1" fill="url(#sun)" stroke="#f4a614" stroke-width="1.1"/>
<path d="M176.16,547.66 Q170.92,538.71 184.45,531.09 Q188.31,538.88 187.76,547.33 Q181.81,546.62 176.16,547.66 Z" fill="url(#sun)" stroke="#f4a614" stroke-width="1" stroke-linejoin="round"/>
<path d="M192.73,547.88 Q197.70,538.49 209.30,541.03 Q207.09,549.48 201.79,555.06 Q197.89,550.86 192.73,547.88 Z" fill="url(#sun)" stroke="#f4a614" stroke-width="1" stroke-linejoin="round"/>
<path d="M202.34,560.58 Q214.88,558.10 218.36,569.97 Q210.57,571.30 202.12,571.30 Q203.11,566.06 202.34,560.58 Z" fill="url(#sun)" stroke="#f4a614" stroke-width="1" stroke-linejoin="round"/>
<path d="M199.03,577.15 Q209.74,583.50 199.69,595.37 Q193.78,588.19 189.42,582.34 Q194.67,580.51 199.03,577.15 Z" fill="url(#sun)" stroke="#f4a614" stroke-width="1" stroke-linejoin="round"/>
<path d="M170.64,580.79 Q164.13,591.23 173.96,598.36 Q179.37,591.78 181.69,584.11 Q175.80,583.25 170.64,580.79 Z" fill="url(#sun)" stroke="#f4a614" stroke-width="1" stroke-linejoin="round"/>
<path d="M164.57,565.55 Q153.36,567.49 150.76,577.15 Q158.88,577.76 166.78,576.82 Q164.85,571.51 164.57,565.55 Z" fill="url(#sun)" stroke="#f4a614" stroke-width="1" stroke-linejoin="round"/>
<path d="M170.86,550.64 Q160.87,542.08 152.42,550.09 Q158.93,555.06 165.89,560.03 Q167.59,554.94 170.86,550.64 Z" fill="url(#sun)" stroke="#f4a614" stroke-width="1" stroke-linejoin="round"/>
<text transform="translate(664.9,623.4) rotate(-90)" font-family="'Liberation Serif',serif" fill="#1a1a1a" stroke="#1a1a1a" stroke-width="0.3" textLength="43.0" lengthAdjust="spacingAndGlyphs"><tspan font-size="14.6">Q</tspan><tspan font-size="12.2">UELLE</tspan><tspan font-size="14.6">:</tspan></text>
<text transform="translate(664.9,574.4) rotate(-90)" font-family="'Liberation Serif',serif" fill="#1a1a1a" stroke="#1a1a1a" stroke-width="0.3" textLength="90.6" lengthAdjust="spacingAndGlyphs"><tspan font-size="14.6">W</tspan><tspan font-size="12.2">ETTERSTATION</tspan></text>
<text transform="translate(664.9,477.2) rotate(-90)" font-family="'Liberation Serif',serif" fill="#1a1a1a" stroke="#1a1a1a" stroke-width="0.3" textLength="82.6" lengthAdjust="spacingAndGlyphs"><tspan font-size="14.6">S</tspan><tspan font-size="12.2">CHWÖRSTADT</tspan></text>
<text transform="translate(664.9,387.5) rotate(-90)" font-family="'Liberation Serif',serif" fill="#1a1a1a" stroke="#1a1a1a" stroke-width="0.3" textLength="42.7" lengthAdjust="spacingAndGlyphs"><tspan font-size="14.6">H</tspan><tspan font-size="12.2">ELMUT</tspan></text>
<text transform="translate(664.9,338) rotate(-90)" font-family="'Liberation Serif',serif" fill="#1a1a1a" stroke="#1a1a1a" stroke-width="0.3" textLength="38.1" lengthAdjust="spacingAndGlyphs"><tspan font-size="14.6">K</tspan><tspan font-size="12.2">OHLER</tspan></text>
<text transform="translate(664.9,698.8) rotate(-90)" font-family="'Liberation Serif',serif" fill="#1a1a1a" stroke="#1a1a1a" stroke-width="0.3" textLength="58.4" lengthAdjust="spacingAndGlyphs"><tspan font-size="14.6">BZ-G</tspan><tspan font-size="12.2">RAFIK</tspan></text>
</svg>
</body></html>
